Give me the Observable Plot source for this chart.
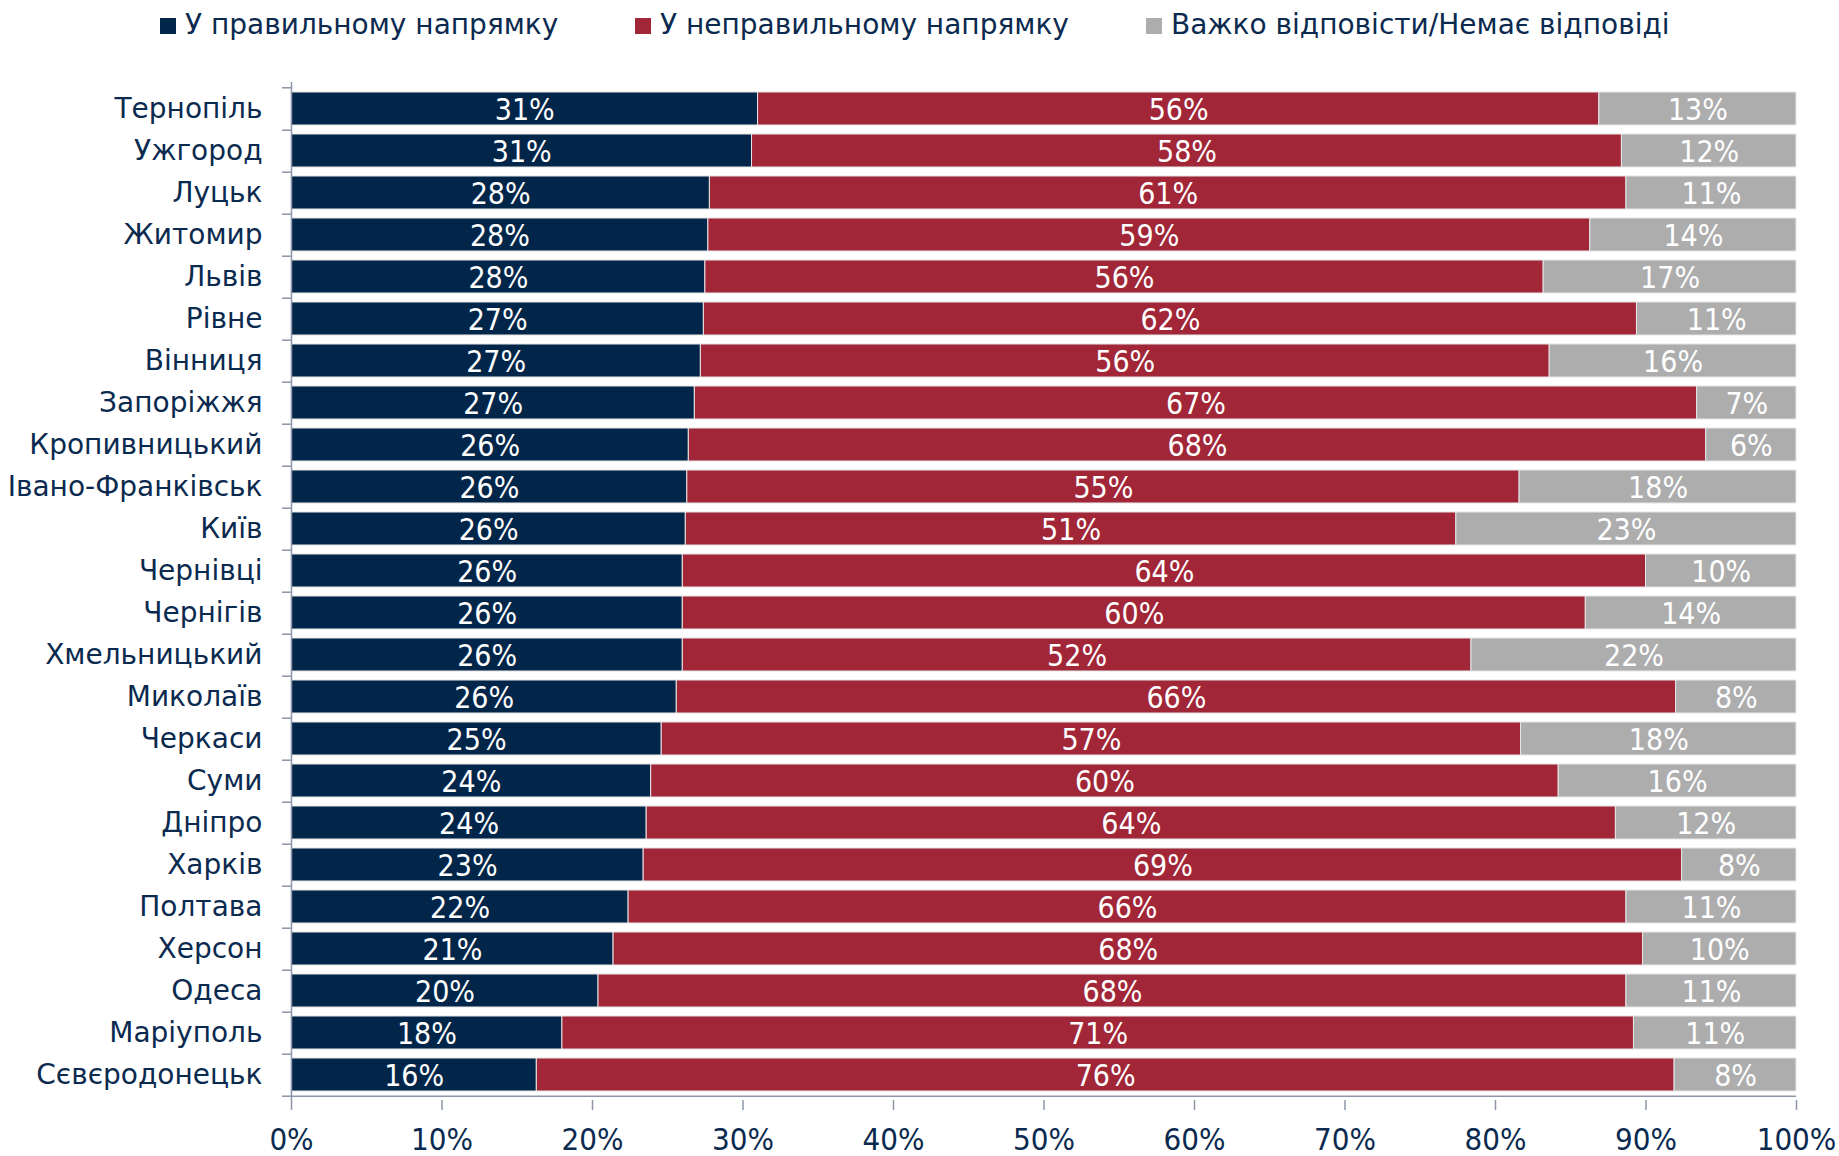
<!DOCTYPE html>
<html>
<head>
<meta charset="utf-8">
<script src="https://cdn.jsdelivr.net/npm/d3@7"></script>
<script src="https://cdn.jsdelivr.net/npm/@observablehq/plot@0.6"></script>
<style>
  html, body { margin: 0; padding: 0; background: #fff; }
  #wrap { position: relative; width: 1839px; height: 1156px; font-family: "DejaVu Sans", sans-serif; }
  #legend { position: relative; height: 56px; }
  .item { position: absolute; top: 8px; display: flex; align-items: center; font-size: 28px; color: #0b2a4f; white-space: nowrap; }
  .sw { width: 16px; height: 16px; margin-right: 9px; margin-top: 2px; }
</style>
</head>
<body>
<div id="wrap">
  <div id="legend"></div>
  <div id="chart"></div>
</div>
<script>
const cities = ["Тернопіль","Ужгород","Луцьк","Житомир","Львів","Рівне","Вінниця","Запоріжжя","Кропивницький","Івано-Франківськ","Київ","Чернівці","Чернігів","Хмельницький","Миколаїв","Черкаси","Суми","Дніпро","Харків","Полтава","Херсон","Одеса","Маріуполь","Сєвєродонецьк"];
const seriesNames = ["У правильному напрямку","У неправильному напрямку","Важко відповісти/Немає відповіді"];
const seriesColors = ["#02264a","#a12638","#adadae"];
const rightDir = [31.0,30.6,27.8,27.7,27.5,27.4,27.2,26.8,26.4,26.3,26.2,26.0,26.0,26.0,25.6,24.6,23.9,23.6,23.4,22.4,21.4,20.4,18.0,16.3];
const wrongDir = [55.9,57.8,60.9,58.6,55.7,62.0,56.4,66.6,67.6,55.3,51.2,64.0,60.0,52.4,66.4,57.1,60.3,64.4,69.0,66.3,68.4,68.3,71.2,75.6];
const hardToSay = [13.1,11.6,11.3,13.7,16.8,10.6,16.4,6.6,6.0,18.4,22.6,10.0,14.0,21.6,8.0,18.3,15.8,12.0,7.6,11.3,10.2,11.3,10.8,8.1];
const xTicks = [0,10,20,30,40,50,60,70,80,90,100];

const seriesValues = [rightDir, wrongDir, hardToSay];
const data = [];
seriesValues.forEach((vals, si) => vals.forEach((v, i) => data.push({city: cities[i], series: seriesNames[si], value: v})));

// legend
const legendX = [160, 635, 1146];
const legend = document.getElementById("legend");
seriesNames.forEach((name, i) => {
  const it = document.createElement("div");
  it.className = "item";
  it.style.left = legendX[i] + "px";
  it.innerHTML = `<span class="sw" style="background:${seriesColors[i]}"></span><span>${name}</span>`;
  legend.appendChild(it);
});

const W = 1839, H = 1100, mT = 26, mB = 56, mL = 291, mR = 43;
const step = (H - mT - mB) / cities.length;
const axisColor = "#8c96a8";
const labelColor = "#0b2a4f";
const font = "DejaVu Sans, sans-serif";
const numFont = "'Liberation Sans Narrow', 'DejaVu Sans Condensed', sans-serif";

const stackOpts = {x: "value", y: "city", z: "series", order: seriesNames};

const chart = Plot.plot({
  width: W, height: H,
  marginTop: mT, marginBottom: mB, marginLeft: mL, marginRight: mR,
  style: {fontFamily: font, background: "#fff"},
  x: {domain: [0, 100]},
  y: {domain: cities, paddingInner: 0.22, paddingOuter: 0.11},
  color: {domain: seriesNames, range: seriesColors},
  marks: [
    Plot.barX(data, Plot.stackX({...stackOpts, fill: "series", stroke: "#e6e6e6", strokeWidth: 1})),
    Plot.text(data, Plot.stackX({...stackOpts, text: d => Math.round(d.value) + "%", fill: "white", fontSize: 30, fontFamily: numFont, dy: 1})),
    Plot.ruleX([0], {stroke: axisColor, strokeWidth: 1.5}),
    Plot.ruleY([cities[cities.length - 1]], {x1: 0, x2: 100, dy: step / 2, stroke: axisColor, strokeWidth: 1.5}),
    Plot.axisY({tickSize: 0, tickPadding: 29, fontSize: 28, fill: labelColor, label: null}),
    Plot.axisY({tickSize: 9, text: null, dy: step / 2, stroke: axisColor, strokeWidth: 1.5, label: null}),
    Plot.axisY([cities[0]], {tickSize: 9, text: null, dy: -step / 2, stroke: axisColor, strokeWidth: 1.5, label: null}),
    Plot.axisX({ticks: xTicks, tickSize: 10, tickPadding: 17, tickFormat: d => d + "%", fontSize: 31, fontFamily: numFont, fill: labelColor, stroke: axisColor, strokeWidth: 1.5, label: null})
  ]
});
document.getElementById("chart").appendChild(chart);
</script>
</body>
</html>
